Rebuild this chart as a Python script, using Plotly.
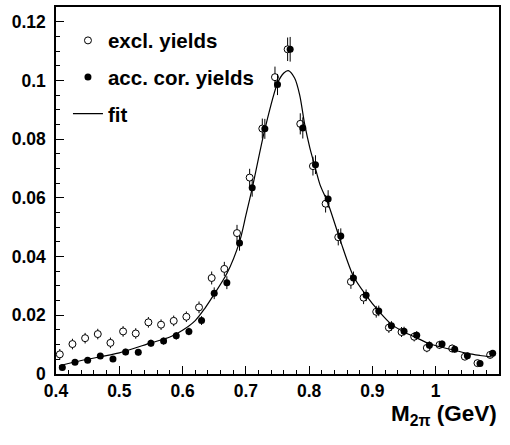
import plotly.graph_objects as go

# Two-pion invariant mass bin centres (GeV)
mass = [0.41, 0.43, 0.45, 0.47, 0.49, 0.51, 0.53, 0.55, 0.57, 0.59,
        0.61, 0.63, 0.65, 0.67, 0.69, 0.71, 0.73, 0.75, 0.77, 0.79,
        0.81, 0.83, 0.85, 0.87, 0.89, 0.91, 0.93, 0.95, 0.97, 0.99,
        1.01, 1.03, 1.05, 1.07, 1.09]

# Exclusive yields (open circles)
excl_yield = [0.0067, 0.0102, 0.0122, 0.0136, 0.0106, 0.0145, 0.0138, 0.0176, 0.0168, 0.0181,
              0.0195, 0.0227, 0.0327, 0.0358, 0.0480, 0.0669, 0.0836, 0.1011, 0.1106, 0.0852,
              0.0708, 0.0580, 0.0466, 0.0314, 0.0260, 0.0212, 0.0158, 0.0143, 0.0127, 0.0089,
              0.0099, 0.0087, 0.0059, 0.0037, 0.0065]
excl_err = [0.0018, 0.0018, 0.0018, 0.0018, 0.0018, 0.0018, 0.0018, 0.0018, 0.0018, 0.0018,
            0.0018, 0.0020, 0.0022, 0.0024, 0.0028, 0.0030, 0.0034, 0.0036, 0.0040, 0.0036,
            0.0032, 0.0030, 0.0028, 0.0024, 0.0022, 0.0020, 0.0018, 0.0017, 0.0016, 0.0015,
            0.0014, 0.0013, 0.0012, 0.0010, 0.0012]

# Acceptance-corrected yields (filled circles)
acc_yield = [0.0022, 0.0040, 0.0047, 0.0061, 0.0051, 0.0075, 0.0074, 0.0105, 0.0112, 0.0130,
             0.0145, 0.0182, 0.0275, 0.0311, 0.0446, 0.0634, 0.0835, 0.0986, 0.1106, 0.0838,
             0.0713, 0.0596, 0.0470, 0.0327, 0.0268, 0.0215, 0.0164, 0.0146, 0.0132, 0.0098,
             0.0102, 0.0084, 0.0062, 0.0036, 0.0071]
acc_err = [0.0008, 0.0009, 0.0009, 0.0010, 0.0010, 0.0011, 0.0011, 0.0012, 0.0012, 0.0013,
           0.0013, 0.0015, 0.0020, 0.0022, 0.0026, 0.0030, 0.0034, 0.0036, 0.0042, 0.0036,
           0.0032, 0.0030, 0.0026, 0.0022, 0.0020, 0.0018, 0.0016, 0.0015, 0.0014, 0.0013,
           0.0012, 0.0011, 0.0010, 0.0009, 0.0010]

# Fitted line shape, sampled along the mass axis
fit_mass = [0.405, 0.44, 0.50, 0.55, 0.58, 0.60, 0.62, 0.635, 0.65, 0.67,
            0.69, 0.70, 0.71, 0.73, 0.75, 0.76, 0.767, 0.777, 0.785, 0.793,
            0.801, 0.809, 0.817, 0.83, 0.85, 0.87, 0.89, 0.91, 0.93, 0.95,
            0.97, 0.99, 1.01, 1.03, 1.05, 1.07, 1.088]
fit_yield = [0.0028, 0.0046, 0.0072, 0.0106, 0.0126, 0.0149, 0.0182, 0.0223, 0.0272, 0.0342,
             0.0450, 0.0540, 0.0632, 0.0833, 0.0990, 0.1025, 0.1033, 0.1008, 0.0951, 0.0850,
             0.0771, 0.0708, 0.0646, 0.0580, 0.0450, 0.0333, 0.0268, 0.0214, 0.0169, 0.0143,
             0.0123, 0.0103, 0.0091, 0.0081, 0.0070, 0.0063, 0.0058]

x_ticks = [0.4, 0.5, 0.6, 0.7, 0.8, 0.9, 1.0, 1.1]
x_labels = ["0.4", "0.5", "0.6", "0.7", "0.8", "0.9", "1", "1.1"]
y_ticks = [0, 0.02, 0.04, 0.06, 0.08, 0.10, 0.12]
y_labels = ["0", "0.02", "0.04", "0.06", "0.08", "0.1", "0.12"]

# small horizontal shift so the two point sets do not sit on top of each other
OPEN_SHIFT = -0.004
excl_mass = [m + OPEN_SHIFT for m in mass]

FONT = "Liberation Sans, Arial, Helvetica, sans-serif"

fig = go.Figure()

fig.add_trace(go.Scatter(
    x=excl_mass, y=excl_yield, mode="markers", name="excl. yields",
    legendgroup="a",
    marker=dict(symbol="circle", size=7, color="white",
                line=dict(color="black", width=1)),
    error_y=dict(type="data", array=excl_err, width=0, thickness=1, color="black"),
))
fig.add_trace(go.Scatter(
    x=mass, y=acc_yield, mode="markers", name="acc. cor. yields",
    legendgroup="b",
    marker=dict(symbol="circle", size=7, color="black",
                line=dict(color="black", width=0)),
    error_y=dict(type="data", array=acc_err, width=0, thickness=1, color="black"),
))
fig.add_trace(go.Scatter(
    x=fit_mass, y=fit_yield, mode="lines", name="fit",
    legendgroup="c",
    line=dict(color="black", width=1.2, shape="spline", smoothing=0.8),
))

axis_common = dict(
    showline=True, linecolor="black", linewidth=1.5, mirror=True,
    showgrid=False, zeroline=False,
    ticks="inside", tickcolor="black", tickwidth=1,
    tickfont=dict(family=FONT, size=17.5, color="black", weight="bold"),
)

fig.update_xaxes(
    range=[0.4, 1.1], tickvals=x_ticks, ticktext=x_labels, ticklen=8,
    minor=dict(dtick=0.02, ticks="inside", ticklen=4, tickcolor="black", tickwidth=1),
    **axis_common,
)
fig.update_yaxes(
    range=[0, 0.125], tickvals=y_ticks, ticktext=y_labels, ticklen=8,
    ticklabelstandoff=5,
    minor=dict(dtick=0.005, ticks="inside", ticklen=4, tickcolor="black", tickwidth=1),
    **axis_common,
)

fig.add_annotation(
    text="M<sub>2π</sub> (GeV)", xref="paper", yref="paper",
    x=1.0, y=-0.068, xanchor="right", yanchor="top", showarrow=False,
    font=dict(family=FONT, size=22.5, color="black", weight="bold"),
)

fig.update_layout(
    width=510, height=445,
    margin=dict(l=56, r=11, t=5, b=71),
    paper_bgcolor="white", plot_bgcolor="white",
    showlegend=True,
    legend=dict(
        x=0.027, y=0.963, xanchor="left", yanchor="top",
        bgcolor="rgba(0,0,0,0)", borderwidth=0,
        font=dict(family=FONT, size=20.5, color="black", weight="bold"),
        itemwidth=30, tracegroupgap=7, traceorder="grouped",
    ),
)

fig.write_html("out.html")
